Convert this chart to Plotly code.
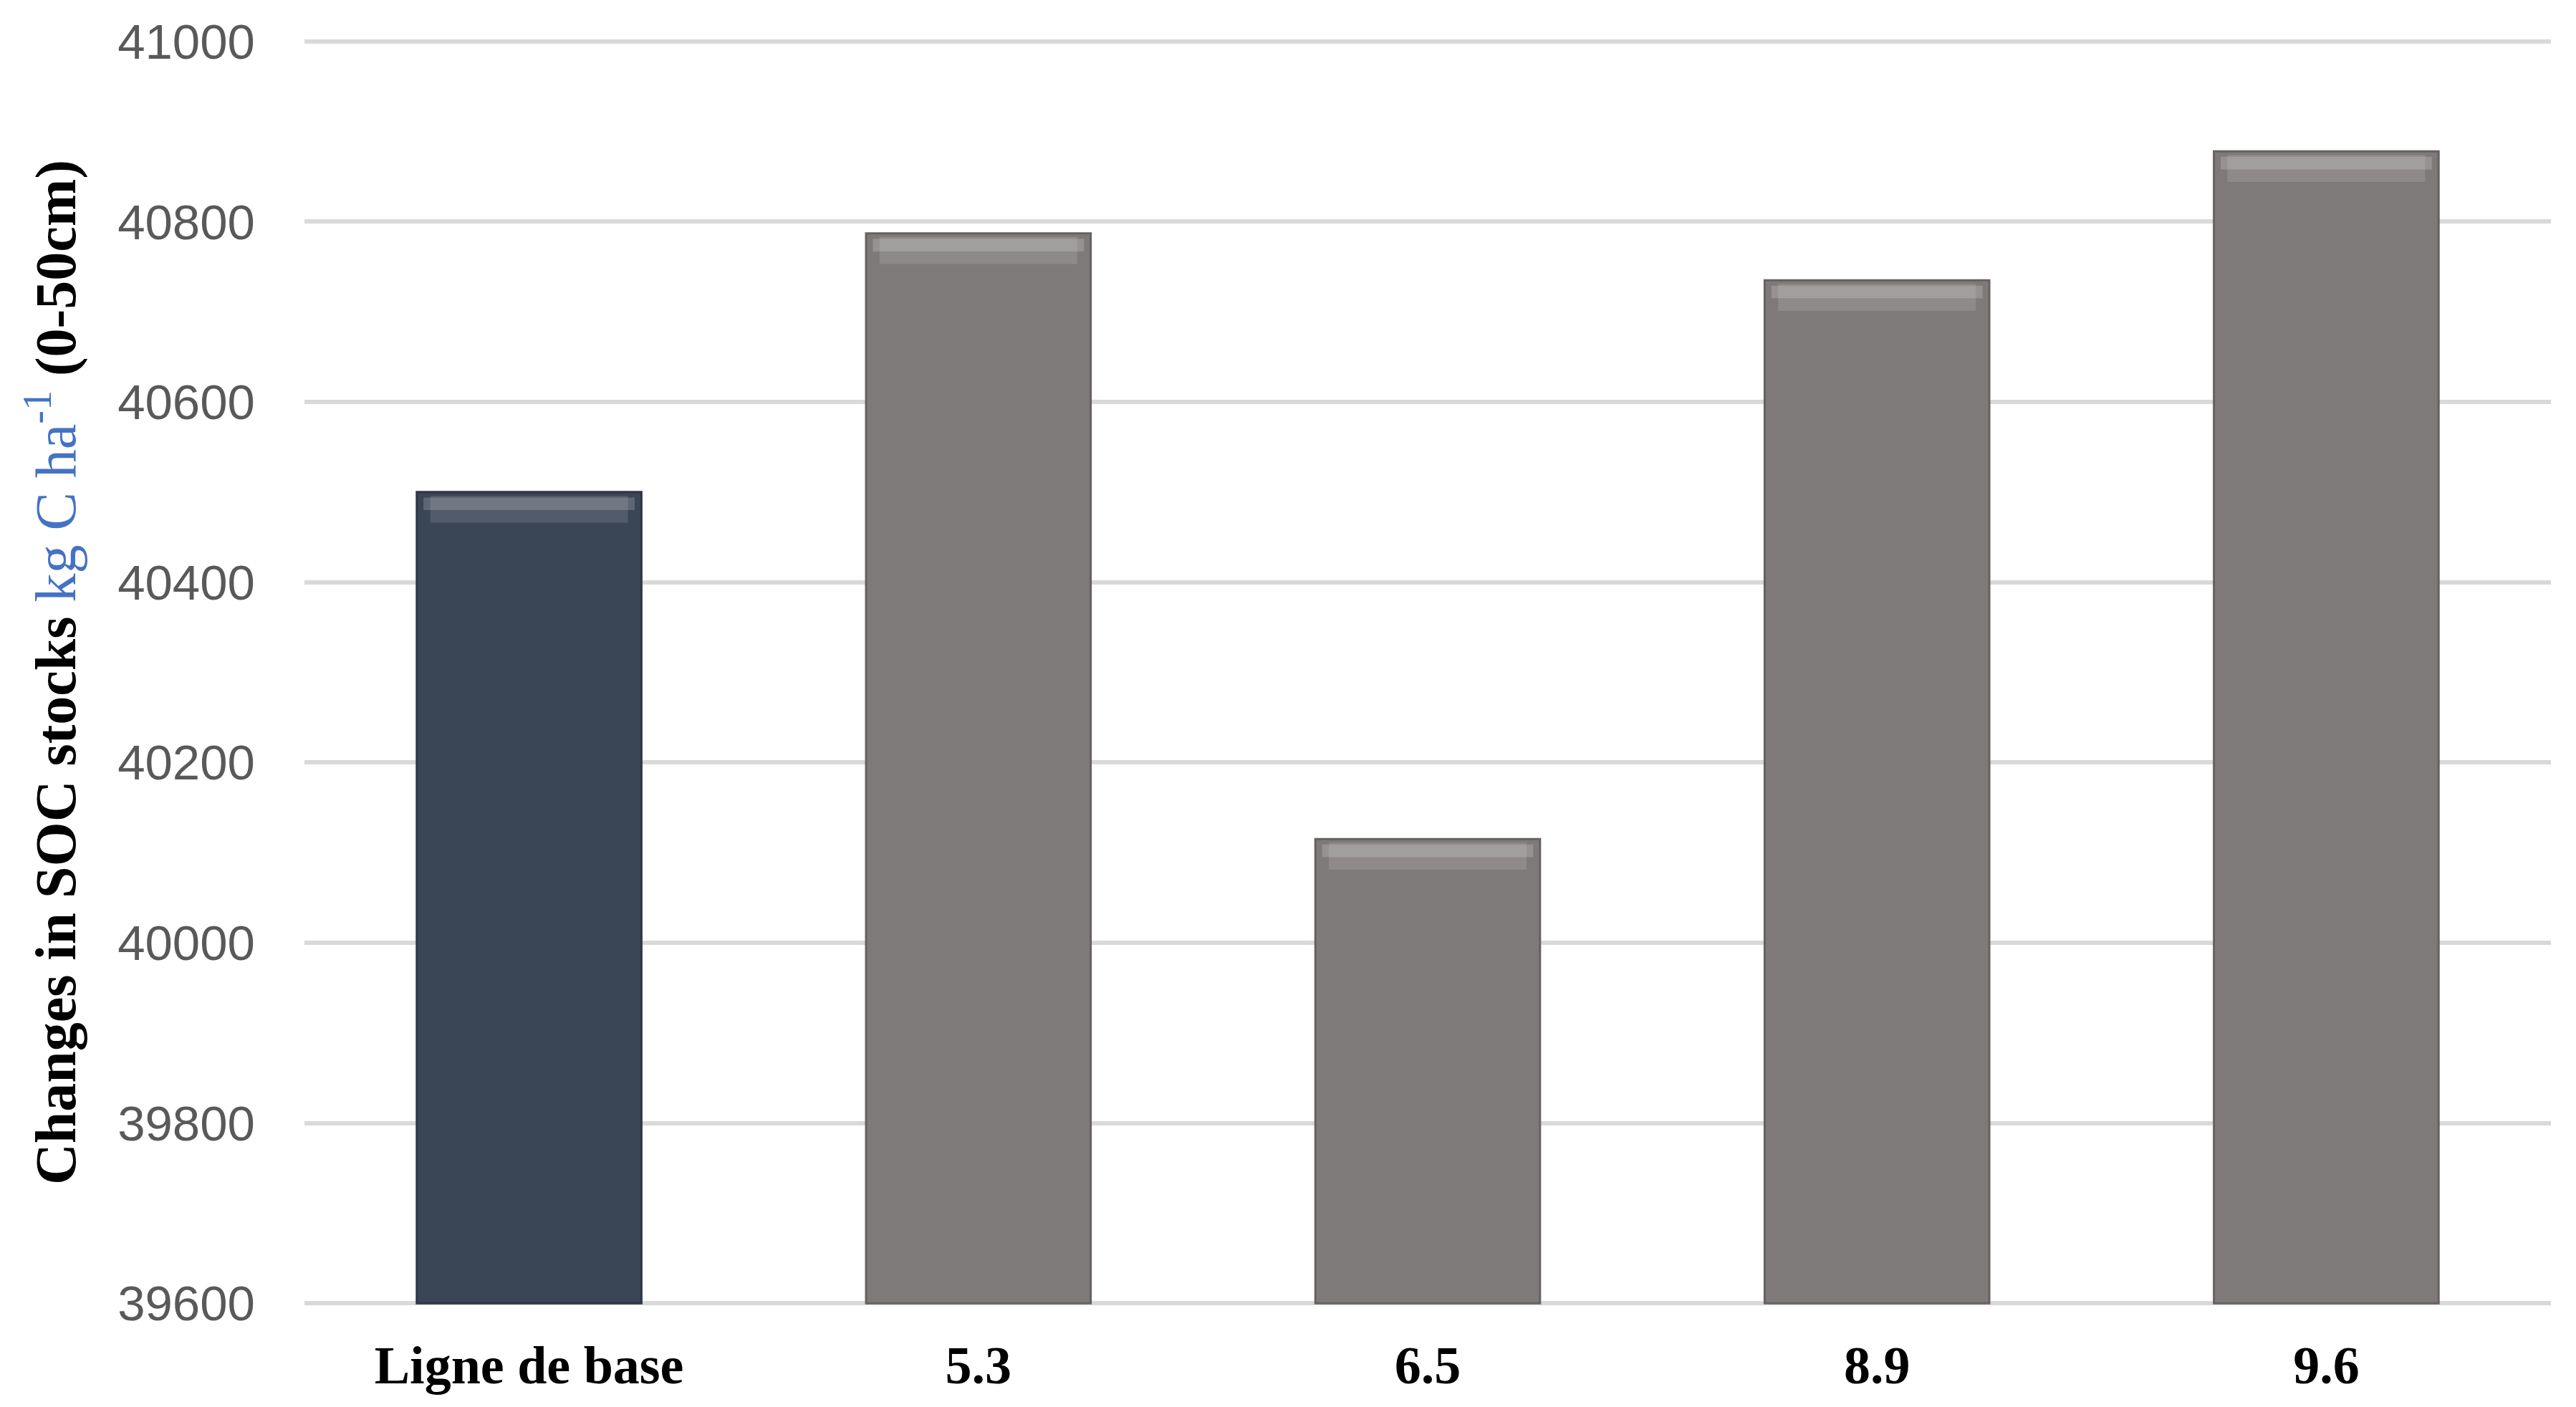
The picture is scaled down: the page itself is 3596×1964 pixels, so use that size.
import plotly.graph_objects as go

categories = ["Ligne de base", "5.3", "6.5", "8.9", "9.6"]
soc_values = [40500, 40787, 40115, 40735, 40878]
bar_colors = ["#3A4555", "#7E7A79", "#7E7A79", "#7E7A79", "#7E7A79"]
edge_colors = ["#2E3744", "#666261", "#666261", "#666261", "#666261"]
tick_vals = [39600, 39800, 40000, 40200, 40400, 40600, 40800, 41000]
tick_text = ["39600", "39800", "40000", "40200", "40400", "40600", "40800", "41000"]

bevel_outer = 34  # data units for top highlight band
bevel_inner = 20

fig = go.Figure()
fig.add_trace(go.Bar(
    x=categories, y=[v - 39600 for v in soc_values], base=39600,
    marker=dict(color=bar_colors, line=dict(color=edge_colors, width=3)),
    width=0.5, showlegend=False, hoverinfo="skip", textposition="none",
))
fig.add_trace(go.Bar(
    x=categories, y=[bevel_outer - 4] * len(soc_values), base=[v - bevel_outer for v in soc_values],
    marker=dict(color="rgba(255,255,255,0.12)", line=dict(width=0)),
    width=0.44, showlegend=False, hoverinfo="skip", textposition="none",
))
fig.add_trace(go.Bar(
    x=categories, y=[bevel_inner - 6] * len(soc_values), base=[v - bevel_inner for v in soc_values],
    marker=dict(color="rgba(255,255,255,0.18)", line=dict(width=0)),
    width=0.47, showlegend=False, hoverinfo="skip", textposition="none",
))

fig.update_layout(
    width=3596, height=1964,
    paper_bgcolor="white", plot_bgcolor="white",
    margin=dict(l=417, r=43, t=46, b=149),
    barmode="overlay",
    showlegend=False,
)
fig.update_xaxes(
    showgrid=False, showline=False, zeroline=False,
    tickfont=dict(family="Liberation Serif", size=74, color="black", weight="bold"),
    ticklabelstandoff=33,
)
fig.update_yaxes(
    range=[39597, 41003], tickvals=tick_vals, ticktext=tick_text,
    showgrid=True, gridcolor="#D9D9D9", gridwidth=6,
    zeroline=False, showline=False,
    tickfont=dict(family="Liberation Sans", size=69, color="#595959"),
    ticklabelstandoff=68,
    title=dict(
        text="<b>Changes in SOC stocks </b><span style='color:#4472C4'>kg C ha<sup>-1</sup></span><b> (0-50cm)</b>",
        font=dict(family="Liberation Serif", size=80, color="black"),
        standoff=32,
    ),
)

fig.write_html("out.html")
